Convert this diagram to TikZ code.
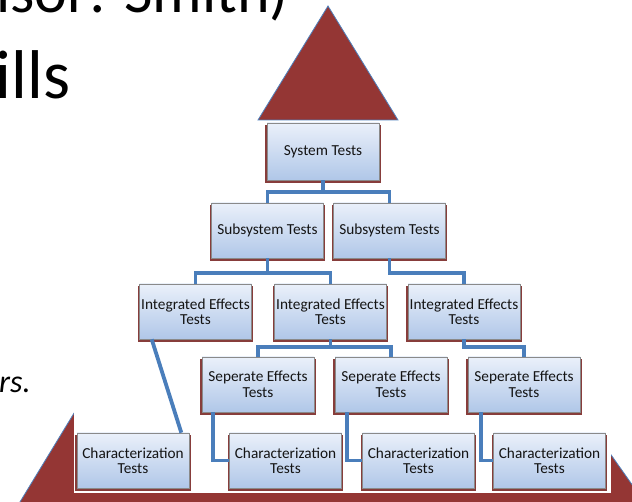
\documentclass[tikz,border=0pt]{standalone}
\usepackage{fontspec}
\setmainfont{Carlito}
\usetikzlibrary{shadows}
\definecolor{tri}{HTML}{943634}
\definecolor{triline}{HTML}{4F81BD}
\definecolor{conn}{HTML}{4A7EBB}
\definecolor{boxtop}{HTML}{EAF0FA}
\definecolor{boxbot}{HTML}{B0C7E8}
\definecolor{shred}{HTML}{7A2826}
\definecolor{boxline}{HTML}{8A8A8A}
\definecolor{txt}{HTML}{141414}
\begin{document}
\begin{tikzpicture}[x=1pt,y=-1pt,
  testbox/.style={rectangle, draw=boxline, line width=0.6pt, top color=boxtop, bottom color=boxbot,
    minimum width=112pt, minimum height=55pt, inner xsep=0pt, inner ysep=0pt, align=center,
    text=txt, font=\fontsize{15.3}{15.5}\selectfont,
    drop shadow={shadow xshift=0pt, shadow yshift=-2.5pt, shadow scale=1.03, fill=shred, opacity=0.9}},
  link/.style={draw=conn, line width=3.8pt, line join=miter},
  redshape/.style={fill=tri, draw=triline, line width=0.8pt, line join=miter}]
\useasboundingbox (0,0) rectangle (632,502);
\clip (0,0) rectangle (632,502);
% background slide texts
\node[anchor=base east, inner sep=0pt, font=\fontsize{62}{62}\selectfont] (t1) at (289,13) {isor: Smith)};
\node[anchor=base west, inner sep=0pt, font=\fontsize{69}{69}\selectfont] (t2) at (-4.5,99) {ills};
\node[anchor=base west, inner sep=0pt, font=\fontsize{32}{32}\selectfont\itshape] (t3) at (-1,393) {rs.};
% pyramid shapes
\path[redshape] (82,400) -- (9,520) -- (657,520) -- (600.6,440) -- cycle;
\fill[white] (74,395) rectangle (611,493);
\path[redshape] (328,6) -- (398,120) -- (258,120) -- cycle;
% boxes
\node[testbox, minimum height=57pt] (sys) at (323,151.5) {System Tests};
\node[testbox] (subL) at (267.5,230.5) {Subsystem Tests};
\node[testbox] (subR) at (389.5,230.5) {Subsystem Tests};
\node[testbox] (int1) at (195.5,311.5) {Integrated Effects\\Tests};
\node[testbox] (int2) at (330.5,311.5) {Integrated Effects\\Tests};
\node[testbox] (int3) at (464,311.5) {Integrated Effects\\Tests};
\node[testbox] (sep1) at (258,384.5) {Seperate Effects\\Tests};
\node[testbox] (sep2) at (391,384.5) {Seperate Effects\\Tests};
\node[testbox] (sep3) at (524,384.5) {Seperate Effects\\Tests};
\node[testbox] (ch1) at (133,460.5) {Characterization\\Tests};
\node[testbox] (ch2) at (285.5,460.5) {Characterization\\Tests};
\node[testbox] (ch3) at (418.5,460.5) {Characterization\\Tests};
\node[testbox] (ch4) at (549.5,460.5) {Characterization\\Tests};
% connectors
\draw[link] (sys.south) -- ++(0,12) -| (subL.north);
\draw[link] (sys.south) -- ++(0,12) -| (subR.north);
\draw[link] (subL.south) -- ++(0,14.7) -| (int1.north);
\draw[link] (subL.south) -- ++(0,14.7) -| (int2.north);
\draw[link] (subR.south) -- ++(0,14.7) -| (int3.north);
\draw[link] (int2.south) -- ++(0,7.7) -| (sep1.north);
\draw[link] (int2.south) -- ++(0,7.7) -| (sep2.north);
\draw[link] (int3.south) -- ++(0,7.7) -| (sep3.north);
\draw[link] ([xshift=12.5pt]int1.south west) -- ([xshift=-8pt]ch1.north east);
\draw[link] ([xshift=11pt]sep1.south west) |- (ch2.west);
\draw[link] ([xshift=12.5pt]sep2.south west) |- (ch3.west);
\draw[link] ([xshift=13pt]sep3.south west) |- (ch4.west);
\end{tikzpicture}
\end{document}
